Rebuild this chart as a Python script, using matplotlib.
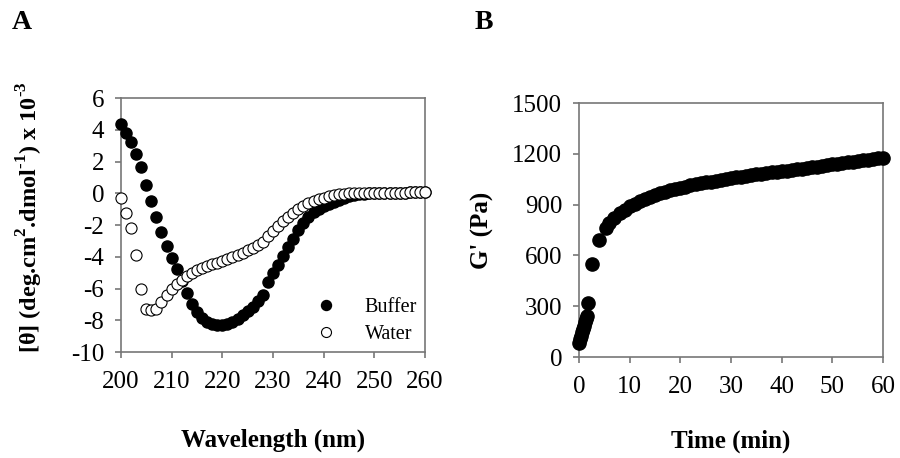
import matplotlib
matplotlib.use("Agg")
import matplotlib.pyplot as plt

plt.rcParams['font.family'] = ['Liberation Serif', 'DejaVu Serif']
plt.rcParams['axes.unicode_minus'] = False
plt.rcParams['mathtext.fontset'] = 'custom'
plt.rcParams['mathtext.rm'] = 'Liberation Serif:bold'
plt.rcParams['mathtext.bf'] = 'Liberation Serif:bold'

# panel A - CD spectra
wavelength = list(range(200, 261))
buffer_vals = [4.35, 3.8, 3.25, 2.5, 1.68, 0.52, -0.47, -1.48, -2.45, -3.3,
               -4.05, -4.8, -5.55, -6.3, -6.95, -7.45, -7.85, -8.1, -8.25, -8.32,
               -8.32, -8.25, -8.1, -7.9, -7.68, -7.42, -7.15, -6.8, -6.4, -5.6,
               -5.05, -4.5, -3.95, -3.4, -2.85, -2.3, -1.85, -1.5, -1.2, -0.98,
               -0.8, -0.65, -0.52, -0.4, -0.28, -0.18, -0.11, -0.06, -0.03, -0.01,
               0.0, 0.01, 0.02, 0.03, 0.03, 0.04, 0.04, 0.05, 0.05, 0.06, 0.06]
water_vals = [-0.32, -1.26, -2.21, -3.9, -6.0, -7.26, -7.37, -7.32, -6.84, -6.42,
              -6.05, -5.72, -5.45, -5.22, -5.02, -4.85, -4.7, -4.58, -4.48, -4.38,
              -4.28, -4.15, -4.02, -3.88, -3.74, -3.6, -3.45, -3.28, -3.08, -2.72,
              -2.4, -2.07, -1.76, -1.48, -1.22, -0.98, -0.78, -0.62, -0.49, -0.37,
              -0.27, -0.19, -0.12, -0.07, -0.03, -0.01, 0.0, 0.01, 0.01, 0.02,
              0.02, 0.03, 0.03, 0.03, 0.04, 0.04, 0.04, 0.05, 0.05, 0.05, 0.05]

# panel B - G' over time
time_min = [0, 0.2, 0.4, 0.6, 0.8, 1.0, 1.2, 1.4, 1.5, 1.8, 2.6, 4.0, 5.3,
            6, 7, 8, 9, 10, 11, 12, 13, 14, 15, 16, 17, 18, 19, 20,
            21, 22, 23, 24, 25, 26, 27, 28, 29, 30, 31, 32, 33, 34, 35,
            36, 37, 38, 39, 40, 41, 42, 43, 44, 45, 46, 47, 48, 49, 50,
            51, 52, 53, 54, 55, 56, 57, 58, 59, 60]
g_prime = [83, 105, 125, 145, 165, 185, 205, 225, 240, 318, 552, 690, 763,
           790, 822, 850, 871, 890, 906, 921, 934, 945, 956, 966, 975, 984, 992, 999,
           1006, 1013, 1019, 1025, 1031, 1036, 1042, 1047, 1052, 1056, 1061, 1065, 1069, 1074, 1078,
           1082, 1086, 1090, 1093, 1097, 1101, 1105, 1109, 1113, 1117, 1121, 1125, 1129, 1133, 1137,
           1141, 1145, 1149, 1153, 1157, 1161, 1165, 1169, 1173, 1177]

spine_col = '#777777'
fs = 18

fig = plt.figure(figsize=(9, 4.58), dpi=100)
axA = fig.add_axes([0.1344, 0.2314, 0.3378, 0.5546])
axB = fig.add_axes([0.6433, 0.2205, 0.3378, 0.5546])

axA.plot(wavelength, buffer_vals, 'o', color='black', markersize=8,
         clip_on=False, label='Buffer', zorder=3)
axA.plot(wavelength, water_vals, 'o', markerfacecolor='white', markeredgecolor='black',
         markeredgewidth=0.8, markersize=8, clip_on=False, label='Water', zorder=4)
axA.set_xlim(200, 260)
axA.set_ylim(-10, 6)
axA.set_xticks(range(200, 261, 10))
axA.set_yticks(range(-10, 7, 2))
axA.set_xlabel('Wavelength (nm)', fontsize=fs, fontweight='bold')
axA.set_ylabel(r'[θ] (deg.cm$^{2}$.dmol$^{\text{-1}}$) x 10$^{\text{-3}}$',
               fontsize=17.5, fontweight='bold')
leg = axA.legend(loc='lower right', frameon=False, fontsize=14.5, handletextpad=1.3,
                 labelspacing=0.4, borderaxespad=0.0, handlelength=1.2, markerscale=0.9)

axB.plot(time_min, g_prime, 'o', color='black', markersize=9.5, clip_on=False, zorder=3)
axB.set_xlim(0, 60)
axB.set_ylim(0, 1500)
axB.set_xticks(range(0, 61, 10))
axB.set_yticks(range(0, 1501, 300))
axB.set_xlabel('Time (min)', fontsize=fs, fontweight='bold')
axB.set_ylabel("G' (Pa)", fontsize=fs, fontweight='bold')

for ax in (axA, axB):
    for s in ax.spines.values():
        s.set_color(spine_col)
        s.set_linewidth(1.2)
    ax.tick_params(direction='out', length=4, width=1.2, color=spine_col,
                   labelsize=fs, pad=8)
    ax.tick_params(axis='x', pad=10)

axA.xaxis.set_label_coords(0.5, -0.30)
axB.xaxis.set_label_coords(0.5, -0.285)
axA.yaxis.set_label_coords(-0.25, 0.53)
axB.yaxis.set_label_coords(-0.28, 0.5)

fig.text(0.013, 0.95, 'A', fontsize=20, fontweight='bold', va='center')
fig.text(0.527, 0.95, 'B', fontsize=20, fontweight='bold', va='center')

fig.savefig('out.png', dpi=100)
